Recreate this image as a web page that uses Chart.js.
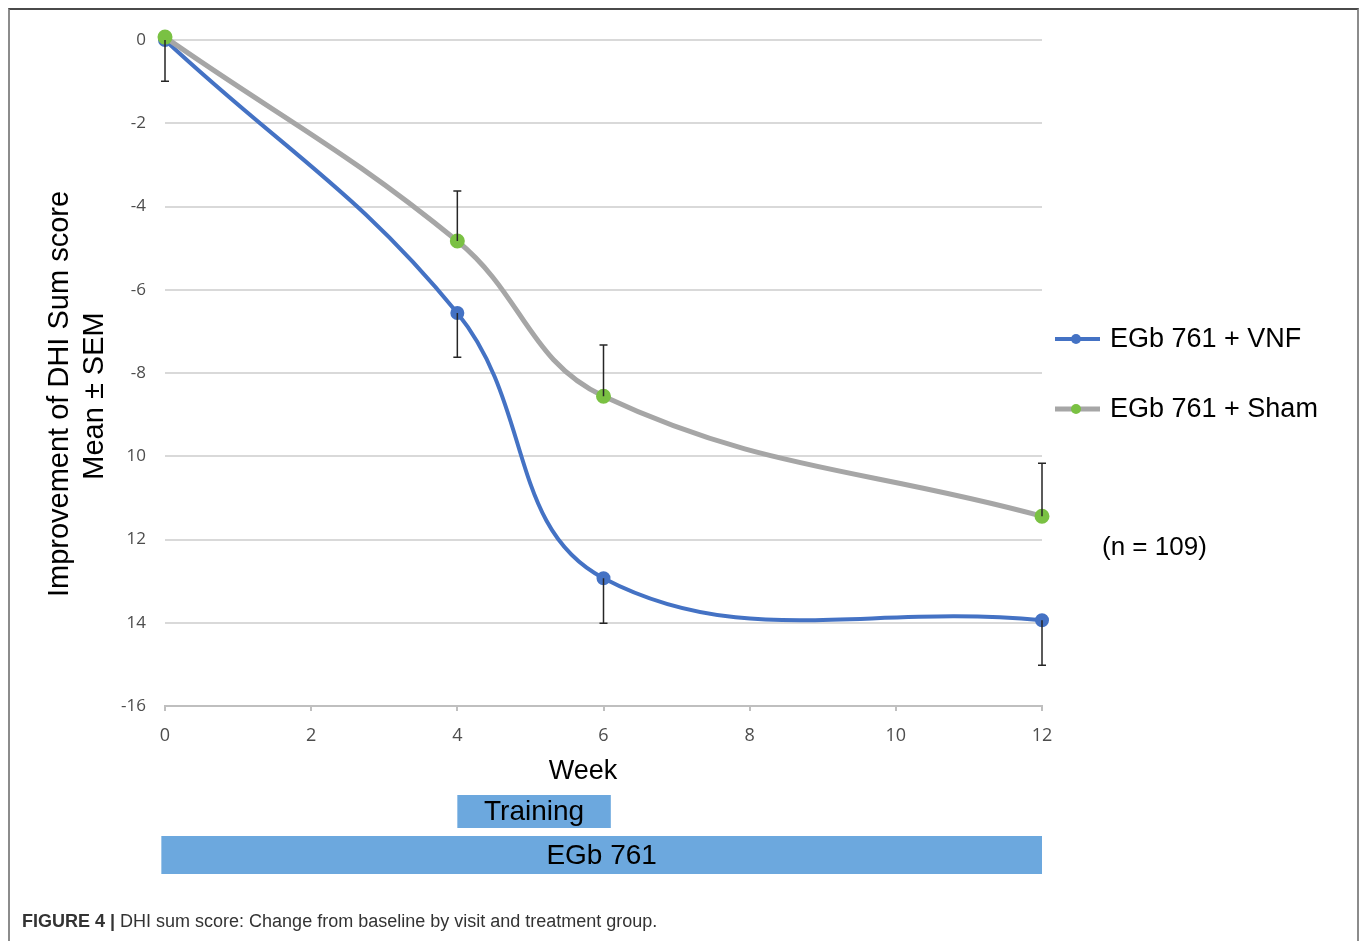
<!DOCTYPE html>
<html>
<head>
<meta charset="utf-8">
<script src="https://cdn.jsdelivr.net/npm/chart.js@4.4.1/dist/chart.umd.min.js"></script>
<style>
  html, body { margin: 0; padding: 0; background: #fff; }
  #wrap { position: relative; width: 1360px; height: 941px; overflow: hidden; }
  #frame { position: absolute; left: 8px; top: 8px; width: 1347px; height: 960px;
           border-top: 2px solid #4a4a4a; border-left: 2px solid #8c8c8c; border-right: 2px solid #8c8c8c; }
  #chartCanvas { position: absolute; left: 0; top: 0; }
  #caption { position: absolute; left: 22px; top: 911px; font-family: "Liberation Sans", Arial, sans-serif;
             font-size: 18px; color: #333; white-space: nowrap; }
  #caption b { font-weight: bold; }
</style>
</head>
<body>
<div id="wrap">
  <div id="frame"></div>
  <canvas id="chartCanvas" width="1360" height="941"></canvas>
  <div id="caption"><b>FIGURE 4 |</b> DHI sum score: Change from baseline by visit and treatment group.</div>
</div>
<script>
// data
var weeks      = [0, 4, 6, 12];
var vnfMean    = [0, -6.56, -12.93, -13.94];
var vnfSem     = [0.99, 1.06, 1.08, 1.08];     // drawn downward
var shamMean   = [0.07, -4.83, -8.56, -11.44];
var shamSem    = [0, 1.2, 1.23, 1.27];         // drawn upward
var seriesNames = ["EGb 761 + VNF", "EGb 761 + Sham"];
var yTickValues = [0, -2, -4, -6, -8, -10, -12, -14, -16];
var yTickLabels = ["0", "-2", "-4", "-6", "-8", "10", "12", "14", "-16"];
var phaseNames = ["Training", "EGb 761"];
var phaseStart = [4, -0.05];
var phaseEnd   = [6.1, 12];

var blue  = "#4472c4";
var gray  = "#a6a6a6";
var green = "#7ac143";
var phaseColor = "#6ca8de";

function toPoints(xs, ys) {
    var pts = [];
    for (var i = 0; i < xs.length; i++) pts.push({x: xs[i], y: ys[i]});
    return pts;
}

// error bars, axis titles, legend and phase bars
var extrasPlugin = {
    id: "extras",
    afterDatasetsDraw: function(chart) {
        var ctx = chart.ctx;
        var xs = chart.scales.x, ys = chart.scales.y;
        var sets = [[vnfMean, vnfSem, -1], [shamMean, shamSem, 1]];
        ctx.save();
        ctx.strokeStyle = "#262626";
        ctx.lineWidth = 1.5;
        sets.forEach(function(s) {
            for (var i = 0; i < weeks.length; i++) {
                if (!s[1][i]) continue;
                var px = xs.getPixelForValue(weeks[i]);
                var y0 = ys.getPixelForValue(s[0][i]);
                var y1 = ys.getPixelForValue(s[0][i] + s[2] * s[1][i]);
                ctx.beginPath();
                ctx.moveTo(px, y0); ctx.lineTo(px, y1);
                ctx.moveTo(px - 4, y1); ctx.lineTo(px + 4, y1);
                ctx.stroke();
            }
        });
        ctx.restore();
    },
    afterDraw: function(chart) {
        var ctx = chart.ctx;
        var xs = chart.scales.x;
        ctx.save();
        ctx.fillStyle = "#000";
        ctx.textAlign = "center";
        ctx.textBaseline = "middle";
        ctx.font = "29px 'Liberation Sans', Arial, sans-serif";

        // y title
        ctx.save();
        ctx.translate(60, 394);
        ctx.rotate(-Math.PI / 2);
        ctx.fillText("Improvement of DHI Sum score", 0, 0);
        ctx.restore();
        ctx.save();
        ctx.translate(95, 396);
        ctx.rotate(-Math.PI / 2);
        ctx.fillText("Mean \u00b1 SEM", 0, 0);
        ctx.restore();

        // x title
        ctx.font = "27px 'Liberation Sans', Arial, sans-serif";
        ctx.fillText("Week", 583, 772);

        // phase bars
        var bandTop = [795, 836], bandH = [33, 38];
        for (var i = 0; i < phaseNames.length; i++) {
            var a = xs.getPixelForValue(phaseStart[i]);
            var b = xs.getPixelForValue(phaseEnd[i]);
            ctx.fillStyle = phaseColor;
            ctx.fillRect(a, bandTop[i], b - a, bandH[i]);
            ctx.fillStyle = "#000";
            ctx.font = "28px 'Liberation Sans', Arial, sans-serif";
            ctx.fillText(phaseNames[i], (a + b) / 2, bandTop[i] + bandH[i] / 2 + 1);
        }

        // legend
        var ds = chart.data.datasets;
        var legY = [339, 409];
        ctx.textAlign = "left";
        ctx.font = "27px 'Liberation Sans', Arial, sans-serif";
        for (var k = 0; k < ds.length; k++) {
            ctx.strokeStyle = ds[k].borderColor;
            ctx.lineWidth = ds[k].borderWidth;
            ctx.beginPath();
            ctx.moveTo(1055, legY[k]); ctx.lineTo(1100, legY[k]);
            ctx.stroke();
            ctx.fillStyle = ds[k].pointBackgroundColor;
            ctx.beginPath();
            ctx.arc(1076, legY[k], 5, 0, Math.PI * 2);
            ctx.fill();
            ctx.fillStyle = "#000";
            ctx.fillText(ds[k].label, 1110, legY[k] + 1);
        }
        ctx.font = "26px 'Liberation Sans', Arial, sans-serif";
        ctx.fillText("(n = 109)", 1102, 548);
        ctx.restore();
    }
};

var canvas = document.getElementById("chartCanvas");
new Chart(canvas, {
    type: "line",
    data: {
        datasets: [{
            label: seriesNames[0],
            data: toPoints(weeks, vnfMean),
            borderColor: blue,
            borderWidth: 4,
            pointBackgroundColor: blue,
            pointBorderColor: blue,
            pointRadius: 5,
            tension: 0.4,
            clip: 12,
            order: 1
        }, {
            label: seriesNames[1],
            data: toPoints(weeks, shamMean),
            borderColor: gray,
            borderWidth: 5,
            pointBackgroundColor: green,
            pointBorderColor: green,
            pointRadius: 5,
            tension: 0.4,
            clip: 12,
            order: 0
        }]
    },
    options: {
        responsive: false,
        animation: false,
        layout: { padding: { left: 0, top: 40, right: 318, bottom: 175 } },
        plugins: { legend: { display: false }, tooltip: { enabled: false } },
        scales: {
            x: {
                type: "linear",
                min: 0, max: 12,
                ticks: { stepSize: 2, color: "#4d4d4d", padding: 14,
                         font: { family: "'Open Sans', sans-serif", size: 18 } },
                grid: { drawOnChartArea: false, drawTicks: true, tickLength: 5, color: "#bfbfbf", lineWidth: 2 },
                border: { color: "#bfbfbf", width: 2 },
                afterFit: function(scale) { scale.height = 60; }
            },
            y: {
                min: -16, max: 0,
                afterBuildTicks: function(scale) {
                    scale.ticks = yTickValues.map(function(v) { return {value: v}; });
                },
                ticks: {
                    color: "#4d4d4d", padding: 19,
                    font: { family: "'Open Sans', sans-serif", size: 17 },
                    callback: function(v) {
                        var i = yTickValues.indexOf(v);
                        return i >= 0 ? yTickLabels[i] : "";
                    }
                },
                grid: { color: "#d9d9d9", lineWidth: 2, drawTicks: false },
                border: { display: false },
                afterFit: function(scale) { scale.width = 165; }
            }
        }
    },
    plugins: [extrasPlugin]
});
</script>
</body>
</html>
